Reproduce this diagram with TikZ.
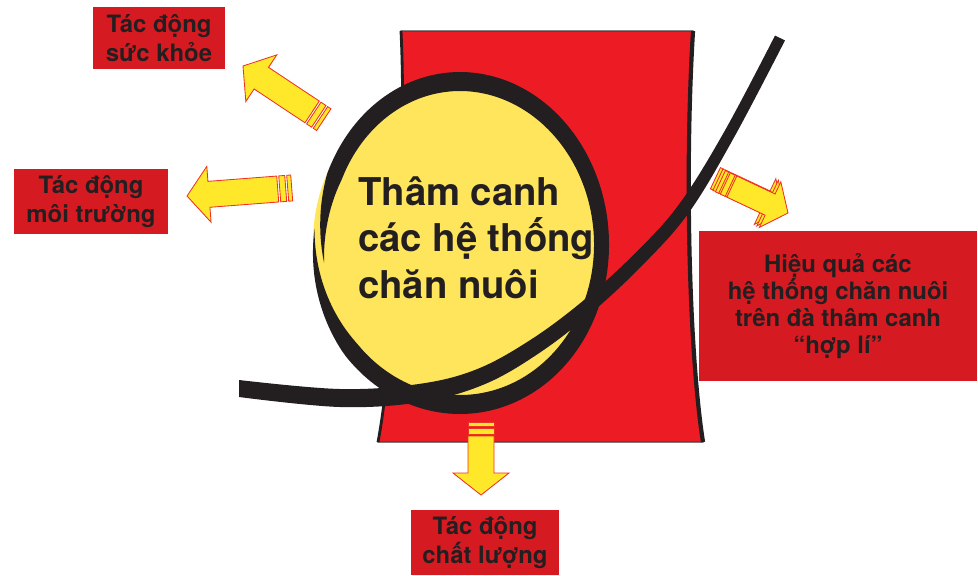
\documentclass[tikz,border=0pt]{standalone}
\usepackage{fontspec}
\setmainfont{TeX Gyre Heros}
\definecolor{towerred}{HTML}{ED1C24}
\definecolor{boxred}{HTML}{D61A21}
\definecolor{eggyellow}{HTML}{FFE55C}
\definecolor{arrowyellow}{HTML}{FFE82A}
\definecolor{arrowline}{HTML}{EE3124}
\definecolor{inkblack}{HTML}{231F20}
\tikzset{
  px/.style={x=0.025cm, y=-0.025cm},
  effectbox/.style={fill=boxred, text=inkblack, align=center, inner sep=0pt,
    font=\bfseries\fontsize{17}{20.5}\selectfont},
  arrowbody/.style={fill=arrowyellow, draw=arrowline, line width=0.6pt, line join=miter},
  % fat arrow pointing along +x, tip at the origin, #1 = shaft length
  fatarrow/.pic={
    \path[arrowbody] (0,0) -- (-22,28) -- (-22,13) -- (-22-#1,13) -- (-22-#1,-13)
      -- (-22,-13) -- (-22,-28) -- cycle;
    \path[arrowbody] (-24-#1,13) rectangle (-30-#1,-13);
    \path[arrowbody] (-32-#1,13) rectangle (-36-#1,-13);
  },
  declare function={
    ringw(\t)=min((187-(\t))/2,((\t)+185)/2.75,15+4*sin(\t)^2);
    ringrx(\t)=137+9*(187-(\t))/372;
  },
}
\newcommand\towerprofile{(401,31) -- (693,31) .. controls (684,180) and (690,360) .. (703,442)
  -- (378,442) .. controls (390,380) and (408,180) .. (401,31)}

\begin{document}
\begin{tikzpicture}[px]
  \useasboundingbox (0,0) rectangle (978,575);
  % red tower behind the egg
  \fill[towerred] \towerprofile -- cycle;
  \draw[inkblack!85, line width=0.8pt] \towerprofile -- cycle;
  \draw[inkblack, line width=2pt] (401,31) .. controls (408,180) and (390,380) .. (378,442);
  \draw[inkblack, line width=3pt] (693,31) .. controls (684,180) and (690,360) .. (703,442);
  % outcome boxes
  \node[effectbox, minimum width=3.3cm, minimum height=1.55cm] (health) at (159,38) {Tác động\\sức khỏe};
  \node[effectbox, minimum width=3.85cm, minimum height=1.625cm] (environment) at (91,201.5) {Tác động\\môi trường};
  \node[effectbox, minimum width=6.95cm, minimum height=3.725cm, font=\bfseries\fontsize{17}{19.4}\selectfont]
    (efficiency) at (838,306) {Hiệu quả các\\hệ thống chăn nuôi\\trên đà thâm canh\\“hợp lí”};
  \node[effectbox, minimum width=3.7cm, minimum height=1.625cm] (quality) at (485,542.5) {Tác động\\chất lượng};
  % arrows
  \pic[rotate=146.4] at (243,66) {fatarrow=61};
  \pic[rotate=184.4] at (187,196) {fatarrow=69};
  \pic[rotate=-90] at (481,495) {fatarrow=37};
  \foreach \d in {5,2.5,0}
    \pic[rotate=-25.2, scale=0.9] at (788-\d,213-0.6*\d) {fatarrow=47};
  % egg with brush ring
  \fill[eggyellow] (460,243) ellipse [x radius=147, y radius=163];
  \fill[inkblack] plot[smooth, variable=\u, domain=0:372, samples=120]
      ({460+(ringrx(187-\u)+0.5*ringw(187-\u))*cos(187-\u)}, {243-(161.5+0.5*ringw(187-\u))*sin(187-\u)})
    -- plot[smooth, variable=\u, domain=0:372, samples=120]
      ({460+(ringrx(\u-185)-0.5*ringw(\u-185))*cos(\u-185)}, {243-(161.5-0.5*ringw(\u-185))*sin(\u-185)})
    -- cycle;
  % swoosh
  \fill[inkblack] plot[smooth, tension=0.6] coordinates {(239,380) (340,389) (418.7,384) (476.1,369.5)
      (529.5,340.5) (582.2,301.5) (636.4,252) (680,203) (725.2,130) (775,35.6)}
    -- plot[smooth, tension=0.6] coordinates {(785,40.4) (734.8,136) (690,211) (645.6,262)
      (591.8,312.5) (538.5,353.5) (483.9,384.5) (421.3,402) (340,407) (239,397)}
    -- cycle;
  \node[font=\bfseries\fontsize{27.2}{33}\selectfont, text=inkblack, align=left, anchor=west, inner sep=0pt]
    (core) at (358,237.5) {Thâm canh\\các hệ thống\\chăn nuôi};
\end{tikzpicture}
\end{document}
